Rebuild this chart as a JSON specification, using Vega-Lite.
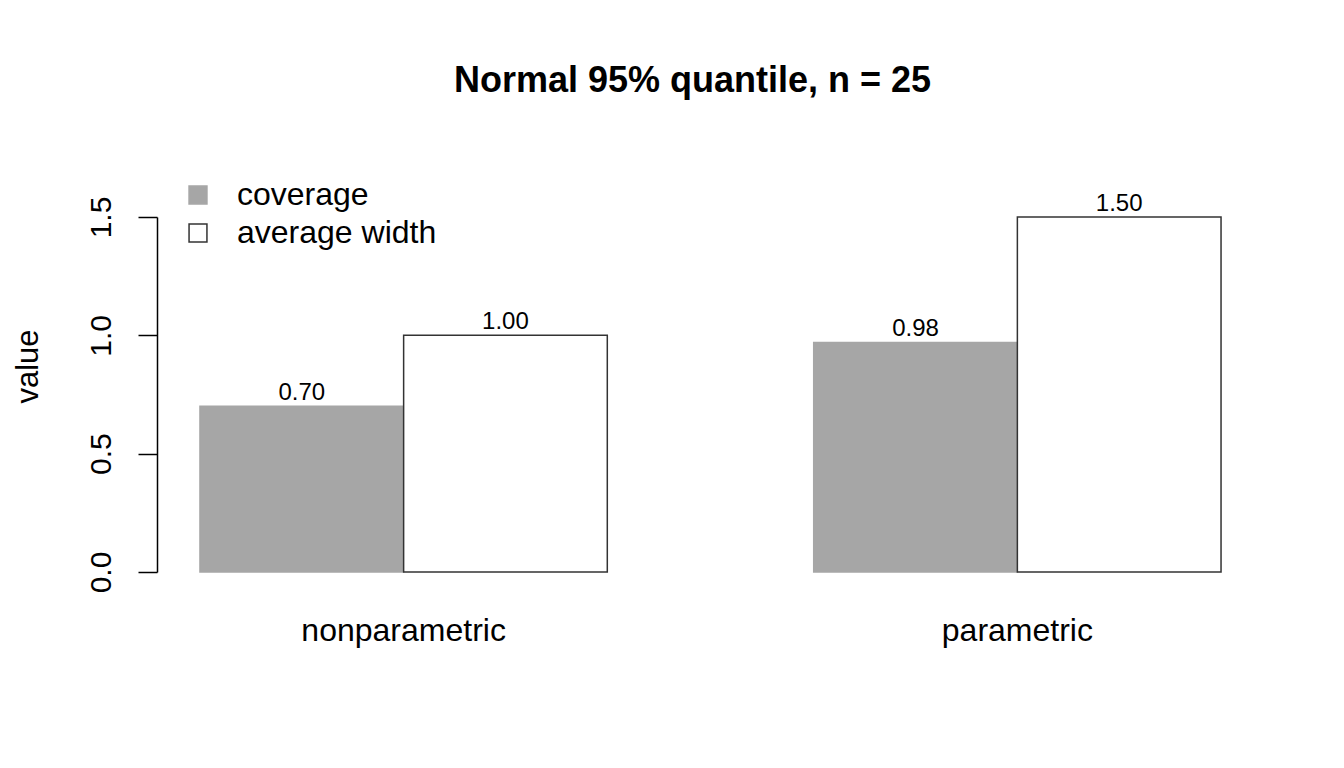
{
  "$schema": "https://vega.github.io/schema/vega-lite/v6.json",
  "width": 1107,
  "height": 355,
  "autosize": {"type": "none"},
  "padding": {"left": 157, "top": 217, "right": 80, "bottom": 196},
  "background": "white",
  "config": {
    "view": {"stroke": null},
    "font": "Liberation Sans"
  },
  "title": {
    "text": "Normal 95% quantile, n = 25",
    "font": "Liberation Sans",
    "fontSize": 36,
    "fontWeight": "bold",
    "color": "black",
    "anchor": "middle",
    "frame": "group",
    "baseline": "alphabetic",
    "offset": 51,
    "dx": -18
  },
  "data": {
    "values": [
      {"method": "nonparametric", "measure": "coverage", "value": 0.70, "label": "0.70"},
      {"method": "nonparametric", "measure": "average width", "value": 1.00, "label": "1.00"},
      {"method": "parametric", "measure": "coverage", "value": 0.97, "label": "0.98"},
      {"method": "parametric", "measure": "average width", "value": 1.50, "label": "1.50"}
    ]
  },
  "encoding": {
    "x": {
      "field": "method",
      "type": "nominal",
      "sort": ["nonparametric", "parametric"],
      "scale": {"paddingInner": 0.3363, "paddingOuter": 0.07},
      "axis": {
        "title": null,
        "domain": false,
        "ticks": false,
        "labelAngle": 0,
        "labelFontSize": 32,
        "labelColor": "black",
        "labelBaseline": "alphabetic",
        "labelPadding": 68,
        "labelLimit": 0
      }
    },
    "xOffset": {
      "field": "measure",
      "type": "nominal",
      "sort": ["coverage", "average width"],
      "scale": {"paddingInner": 0, "paddingOuter": 0}
    },
    "y": {
      "field": "value",
      "type": "quantitative",
      "scale": {"domain": [0, 1.5], "nice": false, "zero": true},
      "axis": {
        "title": "value",
        "titleFontSize": 31,
        "titleFontWeight": "normal",
        "titleColor": "black",
        "titleAngle": 270,
        "titleAlign": "center",
        "titleBaseline": "alphabetic",
        "titleX": -120,
        "titleY": 149,
        "values": [0, 0.5, 1, 1.5],
        "format": ".1f",
        "grid": false,
        "domainColor": "black",
        "domainWidth": 1.5,
        "tickColor": "black",
        "tickWidth": 1.5,
        "tickSize": 19,
        "labelFontSize": 30,
        "labelColor": "black",
        "labelAngle": 270,
        "labelAlign": "center",
        "labelBaseline": "alphabetic",
        "labelPadding": 28
      }
    }
  },
  "layer": [
    {
      "mark": {"type": "bar", "strokeWidth": 1.5},
      "encoding": {
        "fill": {
          "field": "measure",
          "type": "nominal",
          "scale": {"domain": ["coverage", "average width"], "range": ["#a6a6a6", "#ffffff"]},
          "legend": {
            "title": null,
            "orient": "none",
            "legendX": 25,
            "legendY": -38,
            "symbolType": "square",
            "symbolSize": 320,
            "symbolStrokeWidth": 1.5,
            "symbolOpacity": 1,
            "labelFontSize": 32,
            "labelColor": "black",
            "labelOffset": 23,
            "labelLimit": 0,
            "rowPadding": 6,
            "padding": 0
          }
        },
        "stroke": {
          "field": "measure",
          "type": "nominal",
          "scale": {"domain": ["coverage", "average width"], "range": ["#a6a6a6", "#333333"]},
          "legend": null
        }
      }
    },
    {
      "mark": {"type": "text", "baseline": "alphabetic", "dy": -6, "fontSize": 24, "color": "black"},
      "encoding": {
        "text": {"field": "label", "type": "nominal"}
      }
    }
  ]
}
